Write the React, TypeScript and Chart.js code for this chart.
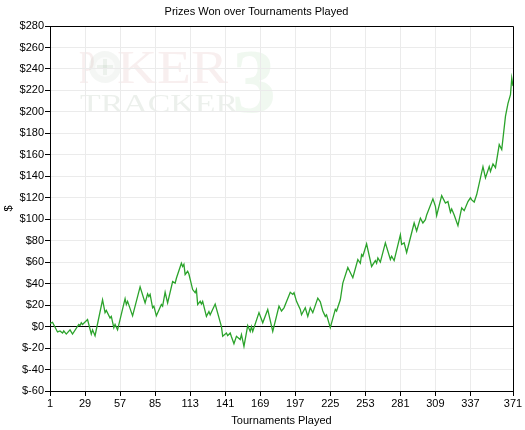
import { useEffect, useRef } from "react";
import { Chart, registerables } from "chart.js";

Chart.register(...registerables);

// Tournament number of each vertex of the cumulative line
const tournaments = [
  1, 3, 7, 9, 11, 12, 14, 17, 19, 24, 25, 26, 27, 31, 34, 35, 37, 43, 45, 46, 49, 50, 52, 53, 55, 61, 62, 63, 67, 73, 77, 79,
  80, 81, 83, 84, 86, 90, 91, 93, 95, 99, 101, 102, 106, 107, 108, 109, 111, 112, 115, 117, 118, 119, 121, 122, 123, 126, 128, 129, 133, 138, 139, 142, 143, 145, 146, 148, 150, 153, 154, 156,
  159, 161, 162, 163, 168, 171, 175, 179, 184, 186, 188, 193, 195, 196, 198, 201, 202, 205, 207, 209, 211, 215, 217, 219, 221, 222, 225, 229, 230, 233,
  235, 239, 243, 247, 249, 250, 251, 254, 258, 261, 262, 263, 265, 269, 273, 274, 276, 281, 282, 284, 286, 292, 294, 297, 299, 301, 302, 307, 309,
  310, 314, 317, 319, 321, 322, 324, 327, 330, 332, 335, 337, 338, 340, 342, 347, 349, 352, 353, 355, 357, 360, 362, 365, 367, 369, 370, 371,
];

// Cumulative prizes won ($) at each vertex
const prizes = [
  3, 4, -5, -4, -6, -4, -7, -3, -7, 2, 1, 3.5, 2, 6.5, -7, -3, -8.5, 25, 13, 15, 8, 9.5, -1, 2, -3, 26, 20.5, 23.5, 10, 37, 22, 30.5,
  28, 30, 17.5, 19, 10, 20.5, 19, 32, 22, 42, 40.5, 45, 59, 56, 58, 48.5, 51.5, 49, 34.5, 31.5, 34.5, 20.5, 23.5, 21, 23.5, 9.5, 14, 11, 21, 0, -9, -6, -8.5, -6, -9.5, -16, -9, -12, -7.5, -18.5,
  1, -4.5, 0, -4.5, 13, 3.5, 16, -4.5, 19, 14.5, 17.5, 32, 30, 31.5, 23.5, 16, 11, 17.5, 9.5, 17.5, 13, 26.5, 23, 14.5, 9.5, 11, -1, 16, 14.5, 25,
  40.5, 55, 45.5, 62.5, 59, 67, 65.5, 77, 56, 61.5, 59, 64, 60, 78, 62.5, 65.5, 61.5, 85.5, 76.5, 78, 69, 96.5, 89, 101, 96.5, 99.5, 104, 119, 112,
  103.5, 122, 115, 116.5, 106.5, 109.5, 104, 94, 110.5, 108, 116.5, 120, 118, 116, 123, 149, 138.5, 149, 144.5, 151.5, 148, 169.5, 165, 196, 208, 216, 231.5, 224,
];

const xTickValues = [1, 29, 57, 85, 113, 141, 169, 197, 225, 253, 281, 309, 337, 371];
const yTickValues = [-60, -40, -20, 0, 20, 40, 60, 80, 100, 120, 140, 160, 180, 200, 220, 240, 260, 280];

const chartTitle = "Prizes Won over Tournaments Played";
const xTitle = "Tournaments Played";
const yTitle = "$";

const FONT = '"Liberation Sans", Arial, sans-serif';

function fitText(ctx: CanvasRenderingContext2D, text: string, x0: number, x1: number, y: number) {
  const w = ctx.measureText(text).width;
  ctx.save();
  ctx.translate(x0, y);
  ctx.scale((x1 - x0) / w, 1);
  ctx.fillText(text, 0, 0);
  ctx.restore();
}

const backgroundPlugin = {
  id: "bgWatermark",
  beforeDraw(chart: any) {
    const ctx: CanvasRenderingContext2D = chart.ctx;
    ctx.save();
    ctx.fillStyle = "#ffffff";
    ctx.fillRect(0, 0, chart.width, chart.height);
    // faint logo watermark
    ctx.textBaseline = "alphabetic";
    ctx.font = '46px "Liberation Serif", serif';
    ctx.fillStyle = "rgba(200,120,120,0.12)";
    fitText(ctx, "P", 79, 95, 83);
    fitText(ctx, "KER", 117, 228, 83);
    ctx.beginPath();
    ctx.arc(105, 67, 16, 0, Math.PI * 2);
    ctx.fillStyle = "rgba(150,165,150,0.10)";
    ctx.fill();
    ctx.beginPath();
    ctx.arc(105, 67, 10, 0, Math.PI * 2);
    ctx.fillStyle = "rgba(255,255,255,0.5)";
    ctx.fill();
    ctx.fillStyle = "rgba(120,160,120,0.10)";
    ctx.fillRect(103, 59, 4, 16);
    ctx.fillRect(97, 65, 16, 4);
    ctx.font = '25px "Liberation Serif", serif';
    ctx.fillStyle = "rgba(110,140,110,0.13)";
    fitText(ctx, "TRACKER", 80, 238, 112);
    ctx.font = 'bold 92px "Liberation Serif", serif';
    ctx.fillStyle = "rgba(70,160,70,0.08)";
    fitText(ctx, "3", 232, 276, 112);
    ctx.restore();
  },
};

const framePlugin = {
  id: "frameTitles",
  afterDraw(chart: any) {
    const ctx: CanvasRenderingContext2D = chart.ctx;
    const a = chart.chartArea;
    ctx.save();
    ctx.strokeStyle = "#000";
    ctx.lineWidth = 1;
    ctx.beginPath();
    ctx.moveTo(Math.round(a.left) + 0.5, Math.round(a.top) + 0.5);
    ctx.lineTo(Math.round(a.right) + 0.5, Math.round(a.top) + 0.5);
    ctx.lineTo(Math.round(a.right) + 0.5, Math.round(a.bottom) + 0.5);
    ctx.stroke();
    ctx.fillStyle = "#000";
    ctx.font = `11px ${FONT}`;
    ctx.textAlign = "center";
    ctx.textBaseline = "alphabetic";
    ctx.fillText(chartTitle, 256.5, 15);
    ctx.fillText(xTitle, (a.left + a.right) / 2, 423.5);
    ctx.translate(12, (a.top + a.bottom) / 2);
    ctx.rotate(-Math.PI / 2);
    ctx.fillText(yTitle, 0, 0);
    ctx.restore();
  },
};

export default function App() {
  const ref = useRef<HTMLCanvasElement | null>(null);

  useEffect(() => {
    document.body.style.margin = "0";
    const canvas = ref.current;
    if (!canvas) return;
    const points = tournaments.map((t, i) => ({ x: t, y: prizes[i] }));
    const chart = new Chart(canvas, {
      type: "line",
      data: {
        datasets: [
          {
            data: points,
            borderColor: "#2ba32b",
            borderWidth: 1.3,
            pointRadius: 0,
            tension: 0,
            fill: false,
          },
        ],
      },
      options: {
        responsive: false,
        animation: false,
        devicePixelRatio: 1,
        layout: { padding: { top: 26, right: 12, left: 0, bottom: 0 } },
        plugins: {
          legend: { display: false },
          title: { display: false },
          tooltip: { enabled: false },
        },
        scales: {
          x: {
            type: "linear",
            min: 1,
            max: 371,
            afterBuildTicks: (s: any) => {
              s.ticks = xTickValues.map((v) => ({ value: v }));
            },
            afterFit: (s: any) => {
              s.height = 39;
            },
            grid: { color: "#ebebeb", tickColor: "#000", tickLength: 5, lineWidth: 1 },
            border: { color: "#000", width: 1 },
            ticks: {
              color: "#000",
              font: { family: FONT, size: 11 },
              padding: 1,
              maxRotation: 0,
              autoSkip: false,
              callback: (v: any) => String(v),
            },
          },
          y: {
            type: "linear",
            min: -60,
            max: 280,
            afterBuildTicks: (s: any) => {
              s.ticks = yTickValues.map((v) => ({ value: v }));
            },
            afterFit: (s: any) => {
              s.width = 50;
            },
            grid: {
              color: (c: any) => (c.tick && c.tick.value === 0 ? "#000" : "#ebebeb"),
              tickColor: "#000",
              tickLength: 5,
              lineWidth: 1,
            },
            border: { color: "#000", width: 1 },
            ticks: {
              color: "#000",
              font: { family: FONT, size: 11 },
              padding: 1,
              autoSkip: false,
              callback: (v: any) => "$" + v,
            },
          },
        },
      },
      plugins: [backgroundPlugin, framePlugin],
    });
    return () => chart.destroy();
  }, []);

  return (
    <div style={{ width: 525, height: 430 }}>
      <canvas ref={ref} width={525} height={430} style={{ display: "block" }} />
    </div>
  );
}
